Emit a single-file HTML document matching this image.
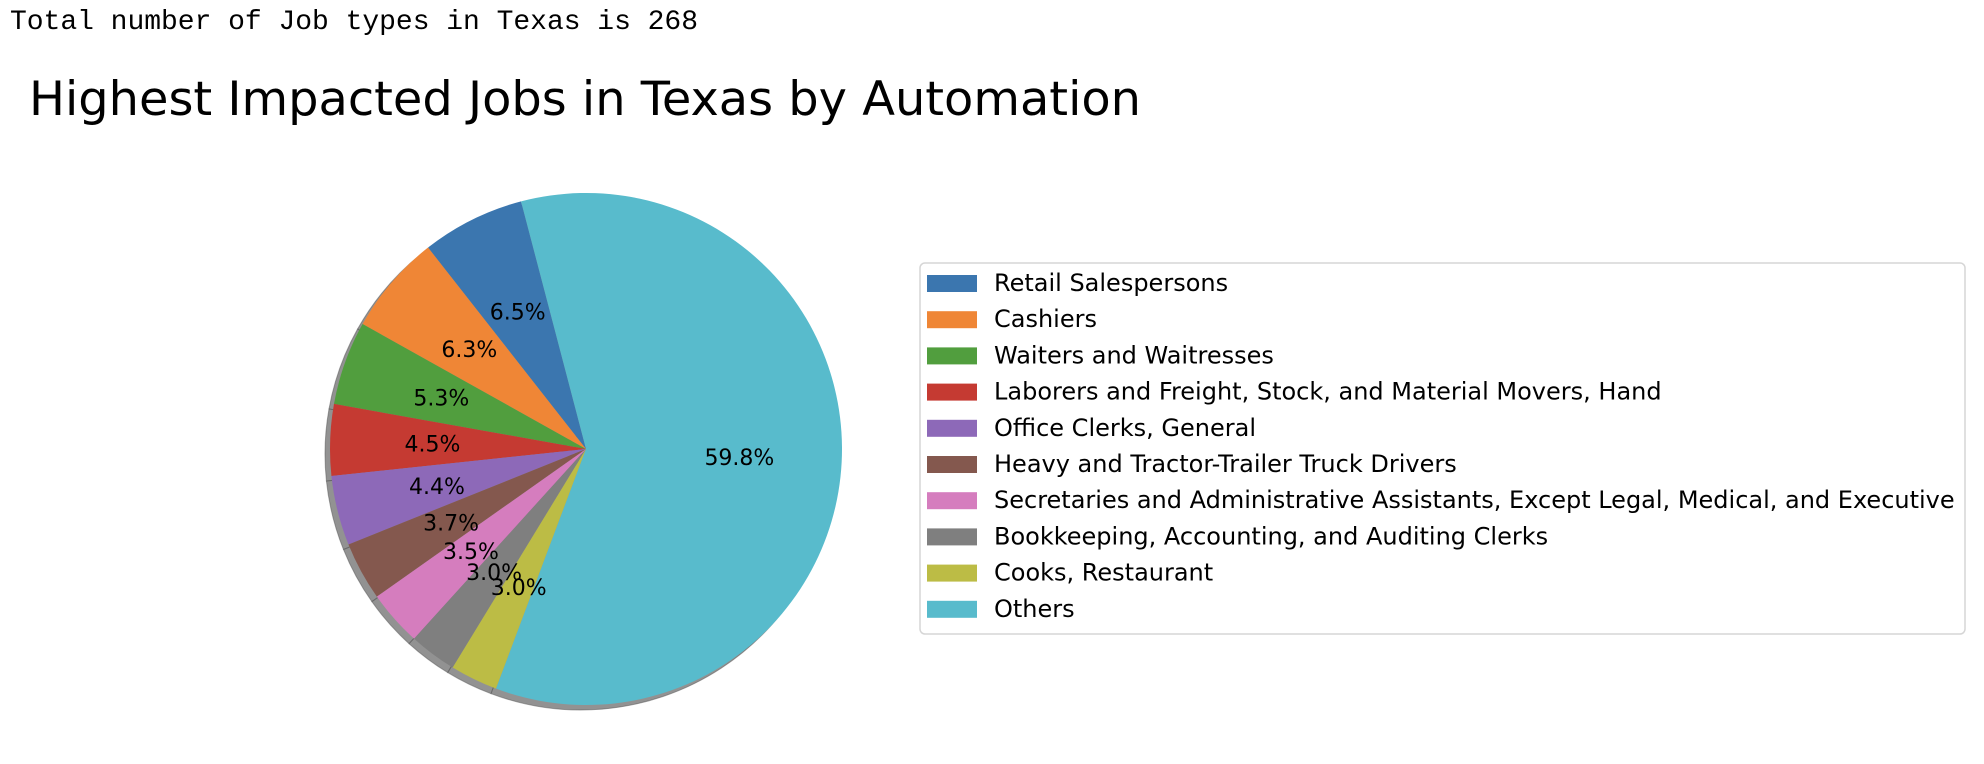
<!DOCTYPE html>
<html><head><meta charset="utf-8"><style>
html,body{margin:0;padding:0;background:#fff;width:1984px;height:764px;overflow:hidden}
</style></head><body>
<svg id="chart" width="1984" height="764" xmlns="http://www.w3.org/2000/svg">
<text x="10" y="29" font-family="Liberation Mono, monospace" font-size="28" fill="#000" textLength="688">Total number of Job types in Texas is 268</text>
<text x="29" y="115" font-family="DejaVu Sans, sans-serif" font-size="47" fill="#000" textLength="1112" lengthAdjust="spacingAndGlyphs">Highest Impacted Jobs in Texas by Automation</text>
<g id="shadow"></g>
<g id="wedges"></g>
<g id="labels"></g>
<rect x="920" y="263" width="1045" height="371" rx="5" fill="#fff" stroke="#d6d6d6" stroke-width="1.5"/>
<g id="legend"></g>
</svg>
<script>
const categories = ["Retail Salespersons","Cashiers","Waiters and Waitresses","Laborers and Freight, Stock, and Material Movers, Hand","Office Clerks, General","Heavy and Tractor-Trailer Truck Drivers","Secretaries and Administrative Assistants, Except Legal, Medical, and Executive","Bookkeeping, Accounting, and Auditing Clerks","Cooks, Restaurant","Others"];
const values = [6.5,6.3,5.3,4.5,4.4,3.7,3.5,3.0,3.0,59.8];
const colors = ["#3b76af","#ef8636","#519e3e","#c53a32","#8d69b8","#84584e","#d57dbe","#7f7f7f","#bcbc45","#58bbcc"];
const NS="http://www.w3.org/2000/svg";
const cx=586, cy=449, r=256, startAngle=104.7;
const total=values.reduce((a,b)=>a+b,0);
function pt(a,rr,ox,oy){const t=a*Math.PI/180;return [cx+ox+rr*Math.cos(t), cy+oy-rr*Math.sin(t)];}
function wedge(a0,a1,ox,oy){
  const p0=pt(a0,r,ox,oy), p1=pt(a1,r,ox,oy);
  const large=(a1-a0)>180?1:0;
  return `M${cx+ox},${cy+oy} L${p0[0]},${p0[1]} A${r},${r} 0 ${large} 0 ${p1[0]},${p1[1]} Z`;
}
const sh=document.getElementById('shadow'), wg=document.getElementById('wedges'), lb=document.getElementById('labels'), lg=document.getElementById('legend');
let a=startAngle;
values.forEach((v,i)=>{
  const span=v/total*360, a1=a+span;
  const s=document.createElementNS(NS,'path');
  s.setAttribute('d',wedge(a,a1,-5,5));
  s.setAttribute('fill','#6e6e6e');s.setAttribute('fill-opacity','0.75');
  s.setAttribute('stroke','#555');s.setAttribute('stroke-opacity','0.5');
  
  
  sh.appendChild(s);
  const p=document.createElementNS(NS,'path');
  p.setAttribute('d',wedge(a,a1,0,0));
  p.setAttribute('fill',colors[i]);
  
  
  wg.appendChild(p);
  const m=(a+a1)/2, lp=pt(m,r*0.6,0,0);
  const t=document.createElementNS(NS,'text');
  t.setAttribute('x',lp[0]);t.setAttribute('y',lp[1]+8);
  t.setAttribute('text-anchor','middle');
  t.setAttribute('font-family','DejaVu Sans, sans-serif');t.setAttribute('font-size','22');
  t.textContent=(v/total*100).toFixed(1)+'%';
  
  
  lb.appendChild(t);
  const y=283+i*36.2;
  const rc=document.createElementNS(NS,'rect');
  rc.setAttribute('x',927);rc.setAttribute('y',y-8);rc.setAttribute('width',50);rc.setAttribute('height',17);
  rc.setAttribute('fill',colors[i]);
  
  
  lg.appendChild(rc);
  const lt=document.createElementNS(NS,'text');
  lt.setAttribute('x',994);lt.setAttribute('y',y+8);
  lt.setAttribute('font-family','DejaVu Sans, sans-serif');lt.setAttribute('font-size','24');
  lt.textContent=categories[i];
  
  
  lg.appendChild(lt);
  a=a1;
});
</script>
</body></html>
